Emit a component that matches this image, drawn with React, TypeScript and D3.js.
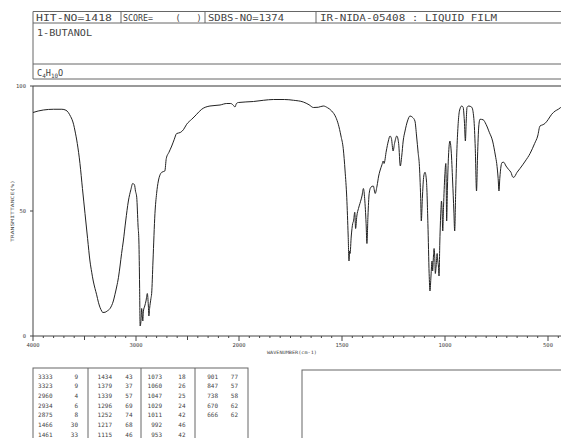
import React from "react";
import * as d3 from "d3";

// spectrum (wavenumber cm-1, %T)
const wavenumbers = [
  4000, 3950, 3900, 3800, 3720, 3680, 3657, 3635, 3620, 3605, 3592, 3570, 3544, 3520, 3495, 3470, 3447, 3430, 3415, 3398,
  3382, 3365, 3350, 3333, 3323, 3300, 3280, 3252, 3235, 3220, 3205, 3188, 3170, 3155, 3140, 3123, 3100, 3074, 3050, 3032,
  3015, 3005, 2993, 2980, 2972, 2965, 2960, 2950, 2945, 2940, 2934, 2928, 2915, 2903, 2890, 2880, 2875, 2868, 2855, 2848,
  2835, 2816, 2800, 2783, 2750, 2720, 2706, 2680, 2653, 2630, 2605, 2570, 2540, 2508, 2459, 2427, 2411, 2362, 2282, 2184,
  2119, 2080, 2055, 2039, 2025, 2006, 1930, 1880, 1833, 1780, 1736, 1688, 1660, 1639, 1615, 1591, 1570, 1550, 1530, 1518,
  1505, 1494, 1485, 1477, 1470, 1466, 1463, 1461, 1455, 1448, 1444, 1438, 1434, 1428, 1420, 1413, 1403, 1396, 1390, 1383,
  1379, 1374, 1368, 1360, 1348, 1339, 1330, 1322, 1316, 1306, 1300, 1296, 1285, 1275, 1267, 1260, 1252, 1245, 1234, 1225,
  1217, 1210, 1203, 1194, 1182, 1170, 1158, 1146, 1138, 1130, 1125, 1118, 1115, 1110, 1103, 1097, 1090, 1083, 1077, 1073,
  1068, 1063, 1060, 1056, 1053, 1049, 1047, 1043, 1038, 1035, 1032, 1029, 1025, 1020, 1017, 1014, 1011, 1007, 1001, 996,
  994, 992, 988, 983, 976, 970, 963, 957, 953, 948, 942, 936, 930, 919, 912, 906, 901, 897, 893, 885,
  870, 860, 853, 847, 842, 836, 830, 815, 801, 785, 769, 755, 749, 742, 738, 734, 728, 723, 715, 704,
  690, 680, 670, 666, 650, 636, 610, 587, 565, 550, 539, 525, 515, 500, 482, 465, 450, 430,
];
const transmittance = [
  89.4, 90, 90.4, 90.7, 90.7, 90.3, 89.4, 87.8, 86.5, 84.5, 82, 77, 69, 59, 49, 39, 30, 25.5, 22, 19,
  16.5, 13.5, 11.5, 10, 9.4, 9.5, 10, 11, 12.3, 14, 16.5, 19.6, 23.5, 28, 33, 38, 46, 54, 58.5, 61,
  60.5, 58, 55.5, 44, 38, 20, 4, 7, 11, 9, 6, 10, 12, 14, 17, 12, 8, 11, 15, 17,
  30, 49, 57, 62, 65.5, 66, 71, 73.5, 76, 78.5, 81, 81.4, 82.5, 84.7, 86.7, 88, 88.7, 90.7, 92, 92.4,
  93, 93, 92.3, 91.6, 93, 93.4, 93.8, 94.3, 94.6, 94.6, 94.3, 93.6, 92.5, 91.4, 91.5, 92, 91.3, 90, 87.5, 84.7,
  80, 75, 66, 55.5, 40, 30, 34, 33, 40, 45, 46, 49.5, 43, 48, 51, 53, 56, 59, 55, 45,
  37, 48, 57, 59.5, 60, 57, 60, 64, 66, 68.5, 70, 69, 74, 78, 80, 79, 74, 77, 80, 77,
  68, 72, 78, 82, 86, 88, 87.5, 86, 80, 73, 69, 55, 46, 55, 64, 65.5, 62, 45, 25, 18,
  24, 30, 26, 32, 35, 30, 25, 28, 33, 30, 28, 24, 38, 50, 54, 50, 42, 52, 64, 69,
  60, 46, 60, 72, 78, 74, 62, 50, 42, 58, 75, 85, 90, 92, 91.5, 86, 78, 86, 91.5, 92,
  91.5, 87, 75, 58, 72, 84, 86.7, 86.5, 84.7, 81.5, 78, 72, 69, 63, 58, 63, 68, 69.4, 69.5, 68,
  66.5, 65.5, 63.5, 63.5, 65.5, 67, 70, 73, 77, 80, 84, 84.5, 85, 86.5, 88.7, 90, 90.7, 92,
];

// peak list
const peakWavenumbers = [
  3333, 3323, 2960, 2934, 2875, 1466, 1461,
  1434, 1379, 1339, 1296, 1252, 1217, 1115,
  1073, 1060, 1047, 1029, 1011, 992, 953,
  901, 847, 738, 670, 666,
];
const peakValues = [
  9, 9, 4, 6, 8, 30, 33,
  43, 37, 57, 69, 74, 68, 46,
  18, 26, 25, 24, 42, 46, 42,
  77, 57, 58, 62, 62,
];

const xTickLabels = [4000, 3000, 2000, 1500, 1000, 500];
const yTickLabels = [100, 50, 0];

const mono = "'DejaVu Sans Mono', monospace";
const ink = "#444";

const App = () => {
  const x = d3.scaleLinear().domain([4000, 2000, 400]).range([33, 239, 568.6]);
  const y = d3.scaleLinear().domain([0, 100]).range([336, 86]);

  const pts = wavenumbers.map((w, i) => [w, transmittance[i]] as [number, number]);
  const line = d3
    .line<[number, number]>()
    .x(d => x(d[0]))
    .y(d => y(d[1]))
    .curve(d3.curveMonotoneX);

  // minor ticks: every 100 above 2000, every 50 below
  const ticks: number[] = [];
  for (let w = 4000; w > 2000; w -= 100) ticks.push(w);
  for (let w = 2000; w >= 450; w -= 50) ticks.push(w);

  const colX = [52.5, 112, 162, 218];
  const valX = [78, 132.5, 185.5, 238];

  return (
    <svg
      width={561}
      height={438}
      style={{ position: "absolute", left: 0, top: 0, background: "#fff" }}
      fontFamily={mono}
    >
      {/* header box */}
      <g stroke="#666" strokeWidth={1} fill="none">
        <line x1={33} x2={561} y1={11.5} y2={11.5} />
        <line x1={33} x2={561} y1={23} y2={23} />
        <line x1={33} x2={561} y1={64} y2={64} />
        <line x1={33} x2={561} y1={79} y2={79} />
        <line x1={33} x2={33} y1={11.5} y2={79} />
        <line x1={121} x2={121} y1={11.5} y2={23} />
        <line x1={205} x2={205} y1={11.5} y2={23} />
        <line x1={316} x2={316} y1={11.5} y2={23} />
      </g>
      <g fill={ink} fontSize={8.5}>
        <text x={36} y={20.5} textLength={76} lengthAdjust="spacingAndGlyphs">HIT-NO=1418</text>
        <text x={123} y={20.5} textLength={30} lengthAdjust="spacingAndGlyphs">SCORE=</text>
        <text x={175.5} y={20.5}>(</text>
        <text x={196.5} y={20.5}>)</text>
        <text x={208} y={20.5} textLength={76} lengthAdjust="spacingAndGlyphs">SDBS-NO=1374</text>
        <text x={320} y={20.5} textLength={177} lengthAdjust="spacingAndGlyphs">IR-NIDA-05408 : LIQUID FILM</text>
        <text x={37} y={35.5} textLength={55} lengthAdjust="spacingAndGlyphs">1-BUTANOL</text>
        <text x={37} y={76}>
          C<tspan fontSize={6} dy={2}>4</tspan>
          <tspan dy={-2}>H</tspan>
          <tspan fontSize={6} dy={2}>10</tspan>
          <tspan dy={-2}>O</tspan>
        </text>
      </g>

      {/* plot frame */}
      <line x1={33} x2={561} y1={y(100)} y2={y(100)} stroke="#999" strokeWidth={2} />
      <line x1={33} x2={33} y1={y(100)} y2={y(0)} stroke={ink} strokeWidth={1} />
      <line x1={33} x2={561} y1={y(0)} y2={y(0)} stroke={ink} strokeWidth={1} />
      {yTickLabels.map(v => (
        <g key={v}>
          <line x1={30} x2={33} y1={y(v)} y2={y(v)} stroke={ink} />
          <text x={26} y={y(v) + 2} fontSize={5.5} textAnchor="end" fill={ink}>{v}</text>
        </g>
      ))}
      {ticks.map(w => {
        const big = xTickLabels.includes(w);
        const mid = w > 2000 && w % 500 === 0;
        const len = big ? 5 : mid ? 4 : 2;
        return <line key={w} x1={x(w)} x2={x(w)} y1={y(0)} y2={y(0) + len} stroke={ink} />;
      })}
      {xTickLabels.map(w => (
        <text key={w} x={x(w)} y={y(0) + 11} fontSize={5.5} textAnchor="middle" fill={ink}>{w}</text>
      ))}
      <text x={267} y={354} fontSize={4.5} fill={ink} textLength={50} lengthAdjust="spacingAndGlyphs">WAVENUMBER(cm-1)</text>
      <text
        transform="translate(14,211) rotate(-90)"
        fontSize={4.5}
        textAnchor="middle"
        fill={ink}
        textLength={62}
        lengthAdjust="spacingAndGlyphs"
      >
        TRANSMITTANCE(%)
      </text>

      {/* spectrum */}
      <path d={line(pts) ?? ""} fill="none" stroke="#222" strokeWidth={1} />

      {/* peak table */}
      <g stroke="#666" strokeWidth={1} fill="none">
        <rect x={33} y={368} width={215} height={80} />
        <line x1={88} x2={88} y1={368} y2={438} />
        <line x1={141} x2={141} y1={368} y2={438} />
        <line x1={195} x2={195} y1={368} y2={438} />
        <rect x={302} y={370} width={300} height={80} />
      </g>
      <g fill={ink} fontSize={6}>
        {peakWavenumbers.map((w, i) => {
          const col = Math.floor(i / 7);
          const row = i % 7;
          const yy = 378.5 + row * 9.7;
          return (
            <g key={i}>
              <text x={colX[col]} y={yy} textAnchor="end">{w}</text>
              <text x={valX[col]} y={yy} textAnchor="end">{peakValues[i]}</text>
            </g>
          );
        })}
      </g>
    </svg>
  );
};

export default App;
